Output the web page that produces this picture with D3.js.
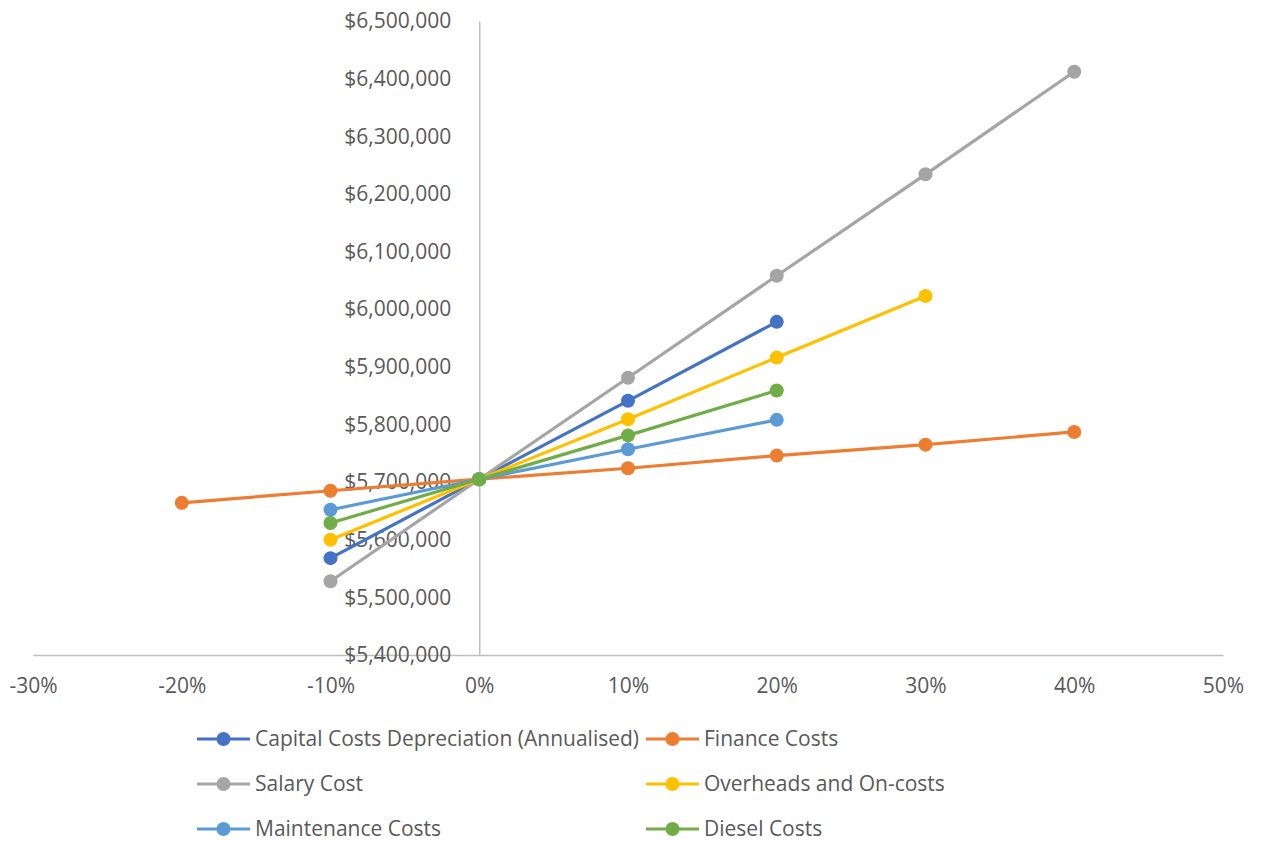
<!DOCTYPE html>
<html><head><meta charset="utf-8">
<script src="https://cdn.jsdelivr.net/npm/d3@7"></script>
<style>body{margin:0;background:#fff}svg{display:block}</style>
</head><body>
<svg id="c" width="1262" height="841"></svg>
<script>
const seriesNames = ["Capital Costs Depreciation (Annualised)","Finance Costs","Salary Cost","Overheads and On-costs","Maintenance Costs","Diesel Costs"];
const seriesColors = ["#4472C4","#ED7D31","#A5A5A5","#FFC000","#5B9BD5","#70AD47"];
const capitalX = [-10,0,10,20];
const capitalY = [5568000,5705000,5841000,5978000];
const financeX = [-20,-10,0,10,20,30,40];
const financeY = [5664000,5685000,5705000,5724000,5746000,5765000,5787000];
const salaryX = [-10,0,10,20,30,40];
const salaryY = [5528000,5705000,5881000,6058000,6234000,6412000];
const overheadsX = [-10,0,10,20,30];
const overheadsY = [5600000,5705000,5809000,5916000,6023000];
const maintenanceX = [-10,0,10,20];
const maintenanceY = [5652000,5705000,5757000,5808000];
const dieselX = [-10,0,10,20];
const dieselY = [5629000,5705000,5781000,5859000];
const xTicks = [-30,-20,-10,0,10,20,30,40,50];
const yTicks = [5400000,5500000,5600000,5700000,5800000,5900000,6000000,6100000,6200000,6300000,6400000,6500000];

const allX = [capitalX,financeX,salaryX,overheadsX,maintenanceX,dieselX];
const allY = [capitalY,financeY,salaryY,overheadsY,maintenanceY,dieselY];
const series = seriesNames.map((n,i)=>({name:n,color:seriesColors[i],pts:allX[i].map((x,j)=>({x,y:allY[i][j]}))}));

const svg = d3.select("#c");
const font = "'Open Sans', Lato, sans-serif";
const x = d3.scaleLinear().domain([-30,50]).range([33,1223]);
const y = d3.scaleLinear().domain([5400000,6500000]).range([655,21]);
const axisColor = "#BFBFBF", textColor = "#595959";

// axes
const gx = svg.append("g").attr("transform",`translate(0,${y(5400000)})`)
  .call(d3.axisBottom(x).tickValues(xTicks).tickSize(0).tickPadding(23).tickFormat(d=>d+"%"));
const gy = svg.append("g").attr("transform",`translate(${x(0)},0)`)
  .call(d3.axisLeft(y).tickValues(yTicks).tickSize(0).tickPadding(28).tickFormat(d=>"$"+d3.format(",")(d)));
[gx,gy].forEach(g=>{
  g.select(".domain").attr("stroke",axisColor).attr("stroke-width",1.5);
  g.selectAll("text").attr("fill",textColor).style("font-family",font).style("font-size","21px");
});

// series
const line = d3.line().x(d=>x(d.x)).y(d=>y(d.y));
series.forEach(s=>{
  const g = svg.append("g");
  g.append("path").datum(s.pts).attr("d",line).attr("fill","none").attr("stroke",s.color).attr("stroke-width",3.2);
  g.selectAll("circle").data(s.pts).join("circle").attr("cx",d=>x(d.x)).attr("cy",d=>y(d.y)).attr("r",7).attr("fill",s.color);
});

// legend
const legX = [197,646], legY = [739,784,829];
series.forEach((s,i)=>{
  const lx = legX[i%2], ly = legY[Math.floor(i/2)];
  const g = svg.append("g").attr("transform",`translate(${lx},${ly})`);
  g.append("line").attr("x1",0).attr("x2",53).attr("stroke",s.color).attr("stroke-width",3.2);
  g.append("circle").attr("cx",26.5).attr("r",7).attr("fill",s.color);
  g.append("text").attr("x",58).attr("dy","0.35em").attr("fill",textColor)
    .style("font-family",font).style("font-size","21px").text(s.name);
});
</script>
</body></html>
